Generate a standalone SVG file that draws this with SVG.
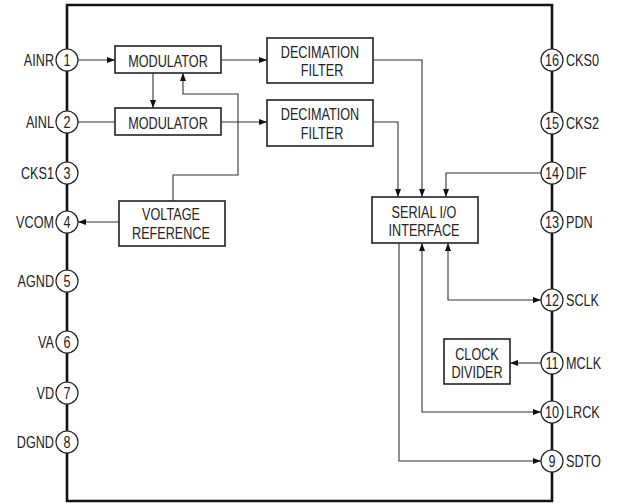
<svg xmlns="http://www.w3.org/2000/svg" width="619" height="503" viewBox="0 0 619 503">
<defs>
<marker id="ah" viewBox="0 0 8 6" refX="8" refY="3" markerWidth="8" markerHeight="6" markerUnits="userSpaceOnUse" orient="auto-start-reverse">
<path d="M0,0 L8,3 L0,6 Z" fill="#111"/>
</marker>
<style>
text{font-family:"Liberation Sans",Arial,sans-serif;font-size:16px;fill:#222}
.m{text-anchor:middle}
.e{text-anchor:end}
.box{fill:#fff;stroke:#222;stroke-width:1.6}
.pin{fill:#fff;stroke:#222;stroke-width:1.2}
.w{fill:none;stroke:#333;stroke-width:1.1}
.chip{fill:none;stroke:#111;stroke-width:2.6}
</style>
</defs>
<rect width="619" height="503" fill="#fff"/>
<g id="chip"><path class="chip" d="M67,5 H552 V501 H67 Z"/></g>

<g id="connectors">
<path class="w" d="M78,60 H115" marker-end="url(#ah)"/>
<path class="w" d="M221,60 H267" marker-end="url(#ah)"/>
<path class="w" d="M153,73 V108" marker-end="url(#ah)"/>
<path class="w" d="M78,122 H115"/>
<path class="w" d="M221,122 H267" marker-end="url(#ah)"/>
<path class="w" d="M173,201 V175 H238 V94 H183 V73" marker-end="url(#ah)"/>
<path class="w" d="M119,222 H78" marker-end="url(#ah)"/>
<path class="w" d="M373,60 H422 V197" marker-end="url(#ah)"/>
<path class="w" d="M373,122 H398 V197" marker-end="url(#ah)"/>
<path class="w" d="M541,173 H446 V197" marker-end="url(#ah)"/>
<path class="w" d="M448,243 V300 H541" marker-start="url(#ah)" marker-end="url(#ah)"/>
<path class="w" d="M422,243 V412 H541" marker-start="url(#ah)" marker-end="url(#ah)"/>
<path class="w" d="M399,243 V461 H541" marker-end="url(#ah)"/>
<path class="w" d="M541,363 H510" marker-end="url(#ah)"/>
</g>

<g id="mod1"><rect class="box" x="115" y="46" width="106" height="27"/>
<text class="m" transform="translate(168,66.5) scale(0.79,1)">MODULATOR</text></g>
<g id="mod2"><rect class="box" x="115" y="108" width="106" height="27"/>
<text class="m" transform="translate(168,128.5) scale(0.79,1)">MODULATOR</text></g>
<g id="df1"><rect class="box" x="267" y="38" width="106" height="45"/>
<text class="m" transform="translate(320,57.5) scale(0.79,1)">DECIMATION</text>
<text class="m" transform="translate(322,75.5) scale(0.79,1)">FILTER</text></g>
<g id="df2"><rect class="box" x="267" y="100" width="106" height="46"/>
<text class="m" transform="translate(320,120) scale(0.79,1)">DECIMATION</text>
<text class="m" transform="translate(322,138.5) scale(0.79,1)">FILTER</text></g>
<g id="vref"><rect class="box" x="119" y="201" width="106" height="45"/>
<text class="m" transform="translate(171,220) scale(0.79,1)">VOLTAGE</text>
<text class="m" transform="translate(171,238.5) scale(0.79,1)">REFERENCE</text></g>
<g id="sio"><rect class="box" x="372" y="197" width="106" height="46"/>
<text class="m" transform="translate(424,217.5) scale(0.79,1)">SERIAL I/O</text>
<text class="m" transform="translate(424,236) scale(0.79,1)">INTERFACE</text></g>
<g id="clkdiv"><rect class="box" x="444" y="339" width="66" height="45"/>
<text class="m" transform="translate(477,359.5) scale(0.79,1)">CLOCK</text>
<text class="m" transform="translate(477,377.5) scale(0.79,1)">DIVIDER</text></g>

<g id="pin1"><circle class="pin" cx="67" cy="60" r="11"/><text class="m" transform="translate(67,66) scale(0.79,1)">1</text><text class="e" transform="translate(54,66) scale(0.79,1)">AINR</text></g>
<g id="pin2"><circle class="pin" cx="67" cy="122" r="11"/><text class="m" transform="translate(67,128) scale(0.79,1)">2</text><text class="e" transform="translate(54,128) scale(0.79,1)">AINL</text></g>
<g id="pin3"><circle class="pin" cx="67" cy="173" r="11"/><text class="m" transform="translate(67,179) scale(0.79,1)">3</text><text class="e" transform="translate(54,179) scale(0.79,1)">CKS1</text></g>
<g id="pin4"><circle class="pin" cx="67" cy="222" r="11"/><text class="m" transform="translate(67,228) scale(0.79,1)">4</text><text class="e" transform="translate(54,228) scale(0.79,1)">VCOM</text></g>
<g id="pin5"><circle class="pin" cx="67" cy="281" r="11"/><text class="m" transform="translate(67,287) scale(0.79,1)">5</text><text class="e" transform="translate(54,287) scale(0.79,1)">AGND</text></g>
<g id="pin6"><circle class="pin" cx="67" cy="342" r="11"/><text class="m" transform="translate(67,348) scale(0.79,1)">6</text><text class="e" transform="translate(54,348) scale(0.79,1)">VA</text></g>
<g id="pin7"><circle class="pin" cx="67" cy="393" r="11"/><text class="m" transform="translate(67,399) scale(0.79,1)">7</text><text class="e" transform="translate(54,399) scale(0.79,1)">VD</text></g>
<g id="pin8"><circle class="pin" cx="67" cy="442" r="11"/><text class="m" transform="translate(67,448) scale(0.79,1)">8</text><text class="e" transform="translate(54,448) scale(0.79,1)">DGND</text></g>

<g id="pin16"><circle class="pin" cx="552" cy="60" r="11"/><text class="m" transform="translate(552,66) scale(0.79,1)">16</text><text transform="translate(566,66) scale(0.79,1)">CKS0</text></g>
<g id="pin15"><circle class="pin" cx="552" cy="123" r="11"/><text class="m" transform="translate(552,129) scale(0.79,1)">15</text><text transform="translate(566,129) scale(0.79,1)">CKS2</text></g>
<g id="pin14"><circle class="pin" cx="552" cy="173" r="11"/><text class="m" transform="translate(552,179) scale(0.79,1)">14</text><text transform="translate(566,179) scale(0.79,1)">DIF</text></g>
<g id="pin13"><circle class="pin" cx="552" cy="222" r="11"/><text class="m" transform="translate(552,228) scale(0.79,1)">13</text><text transform="translate(566,228) scale(0.79,1)">PDN</text></g>
<g id="pin12"><circle class="pin" cx="552" cy="300" r="11"/><text class="m" transform="translate(552,306) scale(0.79,1)">12</text><text transform="translate(566,306) scale(0.79,1)">SCLK</text></g>
<g id="pin11"><circle class="pin" cx="552" cy="363" r="11"/><text class="m" transform="translate(552,369) scale(0.79,1)">11</text><text transform="translate(566,369) scale(0.79,1)">MCLK</text></g>
<g id="pin10"><circle class="pin" cx="552" cy="412" r="11"/><text class="m" transform="translate(552,418) scale(0.79,1)">10</text><text transform="translate(566,418) scale(0.79,1)">LRCK</text></g>
<g id="pin9"><circle class="pin" cx="552" cy="461" r="11"/><text class="m" transform="translate(552,467) scale(0.79,1)">9</text><text transform="translate(566,467) scale(0.79,1)">SDTO</text></g>
</svg>
